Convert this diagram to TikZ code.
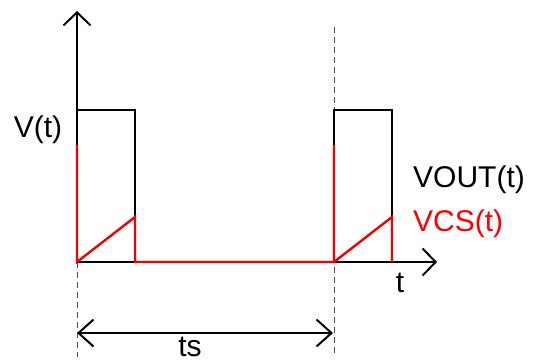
\documentclass[tikz,border=0pt]{standalone}
\usepackage{fontspec}
\setmainfont{Liberation Sans}
\usetikzlibrary{arrows.meta}
\begin{document}
\begin{tikzpicture}[x=1pt,y=-1pt,
  blk/.style={line width=2pt,black,line join=miter},
  redl/.style={line width=2.4pt,red!95!black,line cap=butt},
  guide/.style={line width=0.9pt,black!70,dash pattern=on 6pt off 4pt},
  barb/.style={-{Straight Barb[length=13pt,width=27pt,line width=2pt]}},
  lbl/.style={font=\fontsize{30}{30}\selectfont,inner sep=0pt}]
\useasboundingbox (0,0) rectangle (538,364);
% coordinates
\coordinate (O) at (77,262);
\coordinate (ytop) at (77,11);
\coordinate (xend) at (437,262);
\coordinate (p1tl) at (77,110);
\coordinate (p1tr) at (135,110);
\coordinate (p1br) at (135,262);
\coordinate (p2bl) at (334,262);
\coordinate (p2tl) at (334,110);
\coordinate (p2tr) at (392,110);
\coordinate (p2br) at (392,262);
\coordinate (r1top) at (77,145);
\coordinate (r1ramp) at (135,217);
\coordinate (r2top) at (334,145);
\coordinate (r2ramp) at (392,217);
\coordinate (d1b) at (77,357);
\coordinate (d2t) at (334,27);
\coordinate (d2b) at (334,355);
\coordinate (aL) at (77,333);
\coordinate (aR) at (333,333);
% dashed guides
\draw[guide] (O) -- (d1b);
\draw[guide] (d2t) -- (d2b);
% axes
\draw[blk,barb] (O) -- (ytop);
\draw[blk,barb] (O) -- (xend);
% black pulses
\draw[blk] (O) -- (p1tl) -- (p1tr) -- (p1br);
\draw[blk] (p2bl) -- (p2tl) -- (p2tr) -- (p2br);
% red current sense
\draw[redl] (r1top) -- (O) -- (r1ramp) -- (p1br) -- (p2bl) -- (r2top);
\draw[redl] (p2bl) -- (r2ramp) -- (p2br);
% ts dimension arrow
\draw[line width=2pt,{Straight Barb[length=15pt,width=27pt,line width=2pt]}-{Straight Barb[length=15pt,width=27pt,line width=2pt]}] (aL) -- (aR);
% labels
\node[lbl] (vt) at (38,130) {V(t)};
\node[lbl,anchor=west] (vout) at (413,180) {VOUT(t)};
\node[lbl,anchor=west,text=red] (vcs) at (413,224) {VCS(t)};
\node[lbl] (tl) at (400,283) {t};
\node[lbl] (ts) at (190,347) {ts};
\end{tikzpicture}
\end{document}
